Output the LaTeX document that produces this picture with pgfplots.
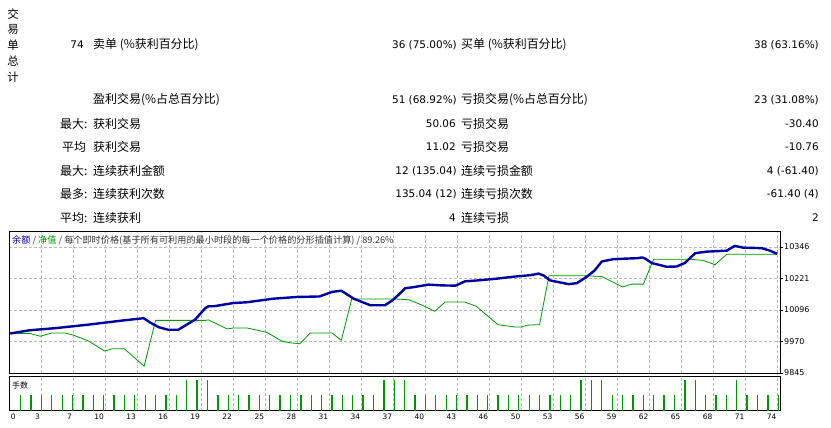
\documentclass[border=0pt]{standalone}
\usepackage{pgfplots}
\pgfplotsset{compat=1.18}
\usepackage{fontspec}
\setmainfont{DejaVu Sans}
\newfontfamily\cjk{Noto Sans CJK SC}
\definecolor{balblue}{RGB}{0,0,160}
\definecolor{eqgreen}{RGB}{0,150,0}
\definecolor{gridgray}{RGB}{185,185,185}

% grid positions of the tester chart (in trade units)
\def\gridticks{-0.125,2.961,6.048,9.134,12.220,15.307,18.393,21.479,24.565,27.652,30.738,33.824,36.911,39.997,43.083,46.170,49.256,52.342,55.428,58.515,61.601,64.687,67.774,70.860,73.946}

\pgfplotstableread{
t v
0 10002
1.9 10015
4.3 10023
7.5 10037
10.7 10053
12.7 10062
12.8 10064
13.5 10045
14.3 10027
15.2 10017
16.2 10017
17.8 10057
18.8 10103
19.1 10110
19.6 10110
21.5 10123
22.8 10126
25.3 10140
27.6 10147
29.8 10149
31.0 10167
31.9 10172
33.1 10140
34.7 10114
36.1 10114
36.9 10136
37.6 10163
38.05 10182
38.7 10185
40.3 10196
41.6 10193
42.9 10192
43.8 10209
45.1 10213
46.7 10219
48.6 10228
50.2 10234
50.9 10240
51.4 10232
52.0 10213
53.8 10198
54.6 10202
55.5 10226
56.3 10252
57.0 10288
58.1 10297
59.1 10299
60.4 10301
60.9 10304
61.2 10299
61.8 10282
63.25 10267
64.2 10268
65.0 10282
66.0 10321
67.1 10327
69.05 10331
69.8 10350
70.6 10343
72.4 10341
73.2 10331
73.9 10318
}\balance

\pgfplotstableread{
t v
0 10002
1.9 10002
2.9 9991
4.0 10004
5.3 10004
6.1 9995
7.5 9973
9.1 9932
9.8 9941
11.0 9941
12.9 9872
14.0 10054
18.8 10054
19.1 10056
20.9 10020
21.5 10024
22.8 10024
24.7 10007
26.2 9971
27.0 9965
27.9 9961
28.9 10004
31.0 10004
31.9 9975
32.9 10139
37.1 10139
38.4 10136
39.6 10116
40.9 10090
41.9 10127
43.8 10127
44.9 10110
47.0 10037
48.6 10028
49.3 10028
49.8 10035
51.0 10037
51.9 10231
55.7 10231
57.0 10228
59.0 10187
59.9 10198
61.0 10198
62.0 10297
65.5 10297
66.8 10292
67.9 10275
69.05 10317
73.9 10317
}\equity

\pgfplotstableread{
t lots
1 1
2 1
3 1
4 1
5 1
6 1
7 1
8 1
9 1
10 1
11 1
12 1
13 1
14 1
15 1
16 1
17 2
18 2
19 2
20 1
21 1
22 1
23 1
24 1
25 1
26 1
27 1
28 1
29 1
30 1
31 1
32 1
33 1
34 1
35 1
36 2
37 2
38 2
39 1
40 1
41 1
42 1
43 1
44 1
45 1
46 1
47 1
48 1
49 1
50 1
51 1
52 1
53 1
54 1
55 2
56 2
57 2
58 1
59 1
60 1
61 1
62 1
63 1
64 1
65 2
66 2
67 1
68 1
69 1
70 2
71 1
72 1
73 1
74 1
}\lots

\begin{document}
\begin{tikzpicture}[x=1bp,y=1bp]
\path[use as bounding box, fill=white] (0,0) rectangle (831,-427);

% ---- summary table ----
\begin{scope}[every node/.style={inner sep=0pt}]
\foreach \c [count=\i from 0] in {交,易,单,总,计}
  \node[font=\cjk\fontsize{11.5}{12}\selectfont] at (13,-14-15.8*\i) {\c};

\tikzset{num/.style={anchor=east, font=\fontsize{10.5}{12}\selectfont},
         lab/.style={anchor=west, font=\cjk\fontsize{12}{13}\selectfont}}
\node[num] at (84,-45) {74};
\node[lab] at (93,-45) {卖单 (\%获利百分比)};
\node[num] at (457,-45) {36 (75.00\%)};
\node[lab] at (461,-45) {买单 (\%获利百分比)};
\node[num] at (819,-45) {38 (63.16\%)};

\node[lab] at (93,-100) {盈利交易(\%占总百分比)};
\node[num] at (457,-100) {51 (68.92\%)};
\node[lab] at (461,-100) {亏损交易(\%占总百分比)};
\node[num] at (819,-100) {23 (31.08\%)};

\node[lab] at (60,-124) {最大:};
\node[lab] at (93,-124) {获利交易};
\node[num] at (456,-124) {50.06};
\node[lab] at (461,-124) {亏损交易};
\node[num] at (819,-124) {-30.40};

\node[lab] at (62,-147) {平均};
\node[lab] at (93,-147) {获利交易};
\node[num] at (456,-147) {11.02};
\node[lab] at (461,-147) {亏损交易};
\node[num] at (819,-147) {-10.76};

\node[lab] at (60,-171) {最大:};
\node[lab] at (93,-171) {连续获利金额};
\node[num] at (457,-171) {12 (135.04)};
\node[lab] at (461,-171) {连续亏损金额};
\node[num] at (819,-171) {4 (-61.40)};

\node[lab] at (60,-194) {最多:};
\node[lab] at (93,-194) {连续获利次数};
\node[num] at (457,-194) {135.04 (12)};
\node[lab] at (461,-194) {连续亏损次数};
\node[num] at (819,-194) {-61.40 (4)};

\node[lab] at (60,-218) {平均:};
\node[lab] at (93,-218) {连续获利};
\node[num] at (456,-218) {4};
\node[lab] at (461,-218) {连续亏损};
\node[num] at (819,-218) {2};
\end{scope}

% ---- balance / equity ----
\begin{axis}[
  at={(9bp,-231bp)}, anchor=north west,
  scale only axis, width=771bp, height=142bp,
  xmin=-0.125, xmax=74.17, ymin=9845, ymax=10409,
  scaled y ticks=false,
  axis line style={black, line width=1bp},
  xtick/.expanded=\gridticks, xticklabel=\empty, xtick style={draw=none},
  ytick={9845,9970,10096,10221,10346},
  yticklabels={9845,9970,10096,10221,10346},
  ytick pos=right, yticklabel pos=right,
  tick align=outside, major tick length=3bp,
  ytick style={black, line width=0.6bp},
  xmajorgrids, ymajorgrids,
  grid style={gridgray, dash pattern=on 3bp off 2bp, line width=0.6bp},
  yticklabel style={anchor=west, inner sep=1bp, font=\fontsize{8}{9}\selectfont},
]
\addplot[eqgreen, line width=0.8bp, line join=round] table[x=t, y=v] {\equity};
\addplot[balblue, line width=2.4bp, line join=round] table[x=t, y=v] {\balance};
\end{axis}

\node[anchor=west, inner sep=0pt, text=black!80, font=\cjk\fontsize{9.2}{10}\selectfont] at (12,-240)
  {\textcolor{balblue}{余额} / \textcolor{eqgreen}{净值} / 每个即时价格(基于所有可利用的最小时段的每一个价格的分形插值计算) / 89.26\%};

% ---- lots ----
\begin{axis}[
  at={(9bp,-376bp)}, anchor=north west,
  scale only axis, width=771bp, height=34.5bp,
  xmin=-0.125, xmax=74.17, ymin=0, ymax=2.26,
  axis line style={black, line width=1bp},
  ytick=\empty,
  xtick/.expanded=\gridticks, xtick style={draw=none},
  xticklabels={\rlap{\hspace{3bp}0},3,7,10,13,16,19,22,25,28,31,34,37,40,43,46,50,53,56,59,62,65,68,71,74},
  xticklabel style={anchor=north east, inner sep=1bp, yshift=-2bp, font=\fontsize{7.5}{9}\selectfont},
  xmajorgrids,
  grid style={gridgray, dash pattern=on 3bp off 2bp, line width=0.6bp},
]
\addplot[ycomb, eqgreen, line width=1.3bp, mark=none] table[x=t, y=lots] {\lots};
\end{axis}
\node[anchor=west, inner sep=0pt, font=\cjk\fontsize{8}{9}\selectfont] at (12,-385) {手数};
\end{tikzpicture}
\end{document}
